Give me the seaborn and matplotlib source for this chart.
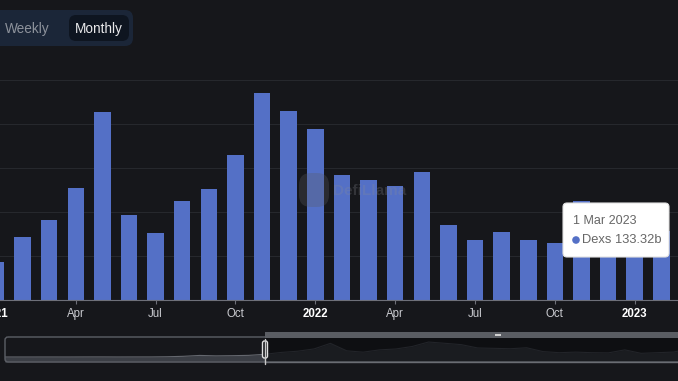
import pandas as pd
import seaborn as sns
import matplotlib.pyplot as plt
from matplotlib.patches import FancyBboxPatch, Rectangle, Circle

# Volumen mensual de los DEX (miles de millones), ene 2021 - mar 2023
meses = ["2021-01", "2021-02", "2021-03", "2021-04", "2021-05", "2021-06",
         "2021-07", "2021-08", "2021-09", "2021-10", "2021-11", "2021-12",
         "2022-01", "2022-02", "2022-03", "2022-04", "2022-05", "2022-06",
         "2022-07", "2022-08", "2022-09", "2022-10", "2022-11", "2022-12",
         "2023-01", "2023-02", "2023-03"]
volumen = [43, 72, 91, 127, 214, 97, 76, 112, 126, 165, 235, 215,
           194, 142, 136, 130, 145, 85, 68, 77, 68, 65, 112, 58,
           68, 78, 133.32]

# historial anterior que solo se ve en el navegador de abajo
meses_previos = ["2019-08", "2019-09", "2019-10", "2019-11", "2019-12",
                 "2020-01", "2020-02", "2020-03", "2020-04", "2020-05", "2020-06",
                 "2020-07", "2020-08", "2020-09", "2020-10", "2020-11", "2020-12"]
volumen_previo = [0.8, 0.7, 0.6, 0.8, 0.9, 0.7, 1.5, 1.8, 0.9, 1.5, 1.6,
                  4.3, 11, 25, 18, 21, 26]

meses_tick = ["2021-01", "2021-04", "2021-07", "2021-10", "2022-01",
              "2022-04", "2022-07", "2022-10", "2023-01"]
etiquetas = ["2021", "Apr", "Jul", "Oct", "2022", "Apr", "Jul", "Oct", "2023"]

fondo = "#16171b"
azul = "#5470c6"
W, H = 678, 381

sns.set_theme(style="dark", rc={"axes.facecolor": fondo, "figure.facecolor": fondo})
plt.rcParams["font.family"] = ["Liberation Sans", "DejaVu Sans"]

fig = plt.figure(figsize=(W / 100, H / 100), dpi=100)


def caja(x, y, w, h):
    # rectángulo en píxeles (origen arriba a la izquierda) -> fracción de figura
    return [x / W, 1 - (y + h) / H, w / W, h / H]


# Gráfico principal
ax = fig.add_axes(caja(-19, 80, 720, 220))
df = pd.DataFrame({"mes": meses, "volumen": volumen})
sns.barplot(data=df, x="mes", y="volumen", color=azul, saturation=1,
            width=0.62, linewidth=0, ax=ax)
ax.set_xlim(-0.56, 26.49)
ax.set_ylim(0, 250)
ax.set_yticks(range(0, 251, 50))
ax.yaxis.grid(True, color="#26282d", lw=0.8)
ax.xaxis.grid(False)
ax.set_axisbelow(True)
ax.tick_params(axis="y", left=False, labelleft=False)
ax.set_xticks([meses.index(m) for m in meses_tick], etiquetas)
ax.tick_params(axis="x", bottom=True, length=3, width=0.8, color="#6e7079",
               pad=3, labelsize=8.3, labelcolor="#c9cacf")
for lab in ax.get_xticklabels():
    if lab.get_text().isdigit():
        lab.set_fontweight("bold")
        lab.set_color("#ffffff")
for lado in ["top", "left", "right"]:
    ax.spines[lado].set_visible(False)
ax.spines["bottom"].set_color("#6e7079")
ax.spines["bottom"].set_linewidth(0.8)
ax.set_xlabel("")
ax.set_ylabel("")

# Navegador (dataZoom)
nav = fig.add_axes(caja(5, 338, 695, 24))
nav.set_facecolor(fondo)
x_prev = list(range(-len(volumen_previo), 0))
x_act = list(range(len(volumen)))
nav.axvspan(0, 30, color="#0e0f12", lw=0)
nav.fill_between(x_prev + [0], -78, volumen_previo + [volumen[0]], color="#3b3e45", lw=0)
nav.plot(x_prev + [0], volumen_previo + [volumen[0]], color="#64676e", lw=0.8)
nav.fill_between(x_act, -78, volumen, color="#1a1c20", lw=0)
nav.plot(x_act, volumen, color="#222429", lw=0.8)
nav.set_xlim(-15.9, 26.6)
nav.set_ylim(-78, 298)
nav.set_xticks([])
nav.set_yticks([])
for s in nav.spines.values():
    s.set_visible(False)

# Capa superior en píxeles: botones, tooltip, marca de agua, marco del navegador
ov = fig.add_axes([0, 0, 1, 1])
ov.set_xlim(0, W)
ov.set_ylim(H, 0)
ov.axis("off")

ov.add_patch(FancyBboxPatch((-20, 10), 153, 36, boxstyle="round,pad=0,rounding_size=8",
                            fc="#1b2638", ec="none"))
ov.add_patch(FancyBboxPatch((69, 15), 60, 26, boxstyle="round,pad=0,rounding_size=7",
                            fc="#0e1520", ec="none"))
ov.text(27.5, 28.5, "Weekly", ha="center", va="center", fontsize=9.8, color="#8d929b")
ov.text(99, 28.5, "Monthly", ha="center", va="center", fontsize=9.8, color="#e8e8ea")

# marca de agua
ov.add_patch(FancyBboxPatch((299, 173), 30, 34, boxstyle="round,pad=0,rounding_size=12",
                            fc="#5a5c62", ec="none", alpha=0.3))
ov.text(333, 191, "DefiLlama", ha="left", va="center", fontsize=11, fontweight="bold",
        color="#8a8d95", alpha=0.25)

# tooltip
ov.add_patch(FancyBboxPatch((563, 203), 106, 54, boxstyle="round,pad=0,rounding_size=4",
                            fc="#ffffff", ec="#e2e2e2", lw=0.8))
ov.text(573, 221, "1 Mar 2023", ha="left", va="center", fontsize=9, color="#666666")
ov.add_patch(Circle((576, 240), 3.8, fc=azul, ec="none"))
ov.text(582, 240, "Dexs", ha="left", va="center", fontsize=9.3, color="#666666")
ov.text(661, 240, "133.32b", ha="right", va="center", fontsize=9.3, color="#666666")

# marco del navegador
ov.add_patch(FancyBboxPatch((5, 337), 700, 25, boxstyle="round,pad=0,rounding_size=3",
                            fc="none", ec="#5c5f66", lw=1))
ov.plot([265, 700], [362, 362], color="#6a6d73", lw=1)
ov.add_patch(Rectangle((265, 332), 440, 6, fc="#5a5d63", ec="none"))
ov.add_patch(Rectangle((495, 333.6), 6, 2.8, fc="#d0d0d0", ec="none"))
ov.plot([265, 265], [339, 364], color="#c8c8c8", lw=1)
ov.add_patch(FancyBboxPatch((262.5, 341), 5, 17, boxstyle="round,pad=0,rounding_size=2",
                            fc=fondo, ec="#e0e0e0", lw=1))

fig.savefig("out.png", dpi=100, facecolor=fondo)
